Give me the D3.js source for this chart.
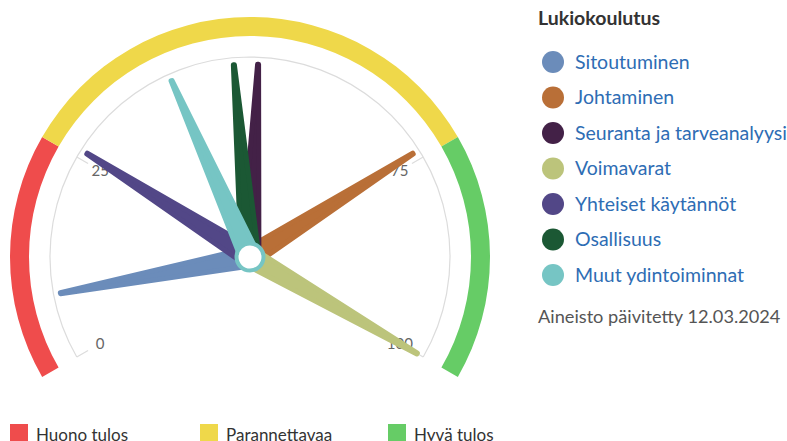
<!DOCTYPE html>
<html>
<head>
<meta charset="utf-8">
<script src="https://cdn.jsdelivr.net/npm/d3@7"></script>
<style>
  body { margin: 0; background: #fff; }
  svg { display: block; font-family: Lato, "Open Sans", sans-serif; }
</style>
</head>
<body>
<div id="chart"></div>
<script>
// data
var seriesNames = ["Sitoutuminen", "Johtaminen", "Seuranta ja tarveanalyysi", "Voimavarat",
                   "Yhteiset käytännöt", "Osallisuus", "Muut ydintoiminnat"];
var seriesValues = [8, 74, 51, 100, 26, 48, 40];
var seriesColors = ["#6b8cba", "#b96f37", "#432147", "#bcc47b", "#524787", "#1b5834", "#76c5c4"];

var bandNames = ["Huono tulos", "Parannettavaa", "Hyvä tulos"];
var bandFrom = [0, 25, 75];
var bandTo = [25, 75, 100];
var bandColors = ["#ef4c4c", "#efd84a", "#66cc66"];

var tickValues = [0, 25, 75, 100];
var legendTitle = "Lukiokoulutus";
var updatedText = "Aineisto päivitetty 12.03.2024";

var width = 787, height = 441;
var cx = 250, cy = 257;
var axisR = 200, bandInner = 221, bandOuter = 240;
var needleR = 193;

var svg = d3.select("#chart").append("svg")
    .attr("width", width)
    .attr("height", height);

var angle = d3.scaleLinear().domain([0, 100]).range([-2 * Math.PI / 3, 2 * Math.PI / 3]);
var toDeg = function(a) { return a * 180 / Math.PI; };

var gauge = svg.append("g")
    .attr("transform", "translate(" + cx + "," + cy + ")");

// coloured bands
var bandArc = d3.arc().innerRadius(bandInner).outerRadius(bandOuter);
gauge.selectAll("path.band")
    .data(bandFrom)
    .enter()
    .append("path")
        .attr("class", "band")
        .attr("d", (d, i) => bandArc({startAngle: angle(d), endAngle: angle(bandTo[i])}))
        .attr("fill", (d, i) => bandColors[i]);

// grey axis line
gauge.append("path")
    .attr("d", d3.arc().innerRadius(axisR).outerRadius(axisR)({startAngle: angle(0), endAngle: angle(100)}))
    .attr("fill", "none")
    .attr("stroke", "#dcdcdc")
    .attr("stroke-width", 1.2);

// ticks and labels
gauge.selectAll("line.tick")
    .data(tickValues)
    .enter()
    .append("line")
        .attr("x1", d => Math.sin(angle(d)) * axisR)
        .attr("y1", d => -Math.cos(angle(d)) * axisR)
        .attr("x2", d => Math.sin(angle(d)) * (axisR - 13))
        .attr("y2", d => -Math.cos(angle(d)) * (axisR - 13))
        .attr("stroke", "#dcdcdc")
        .attr("stroke-width", 1.2);

gauge.selectAll("text.tick")
    .data(tickValues)
    .enter()
    .append("text")
        .attr("x", d => Math.sin(angle(d)) * 173)
        .attr("y", d => -Math.cos(angle(d)) * 173)
        .attr("text-anchor", "middle")
        .attr("dy", "0.35em")
        .text(d => d)
        .style("font-size", "15px")
        .style("fill", "#666");

// needles
var hw = 9, tw = 0.5;
gauge.selectAll("path.needle")
    .data(seriesValues)
    .enter()
    .append("path")
        .attr("class", "needle")
        .attr("d", "M" + (-hw) + ",2L" + (-tw) + "," + (-needleR) + "L" + tw + "," + (-needleR) + "L" + hw + ",2Z")
        .attr("transform", d => "rotate(" + toDeg(angle(d)) + ")")
        .attr("fill", (d, i) => seriesColors[i])
        .attr("stroke", (d, i) => seriesColors[i])
        .attr("stroke-width", 5)
        .attr("stroke-linejoin", "round");

// pivot
gauge.append("circle")
    .attr("r", 13.5)
    .attr("fill", "#fff")
    .attr("stroke", seriesColors[6])
    .attr("stroke-width", 4);

// legend on the right
var legend = svg.append("g")
    .attr("transform", "translate(538,0)");

legend.append("text")
    .attr("x", 0)
    .attr("y", 25)
    .text(legendTitle)
    .style("font-size", "19.5px")
    .style("font-weight", "bold")
    .style("fill", "#333");

var itemY = d3.scaleLinear().domain([0, 6]).range([62, 275]);

legend.selectAll("circle")
    .data(seriesNames)
    .enter()
    .append("circle")
        .attr("cx", 15)
        .attr("cy", (d, i) => itemY(i))
        .attr("r", 11)
        .attr("fill", (d, i) => seriesColors[i]);

legend.selectAll("text.item")
    .data(seriesNames)
    .enter()
    .append("text")
        .attr("class", "item")
        .attr("x", 37)
        .attr("y", (d, i) => itemY(i))
        .attr("dy", "0.35em")
        .text(d => d)
        .style("font-size", "19.5px")
        .style("fill", "#2e6db4");

legend.append("text")
    .attr("x", 0)
    .attr("y", 317)
    .attr("dy", "0.35em")
    .text(updatedText)
    .style("font-size", "18.2px")
    .style("fill", "#555");

// band legend at the bottom
var bandX = [10, 200, 388];
var bottom = svg.append("g");

bottom.selectAll("rect")
    .data(bandNames)
    .enter()
    .append("rect")
        .attr("x", (d, i) => bandX[i])
        .attr("y", 424)
        .attr("width", 18)
        .attr("height", 18)
        .attr("fill", (d, i) => bandColors[i]);

bottom.selectAll("text")
    .data(bandNames)
    .enter()
    .append("text")
        .attr("x", (d, i) => bandX[i] + 26)
        .attr("y", 441)
        .text(d => d)
        .style("font-size", "17px")
        .style("fill", "#333");
</script>
</body>
</html>
